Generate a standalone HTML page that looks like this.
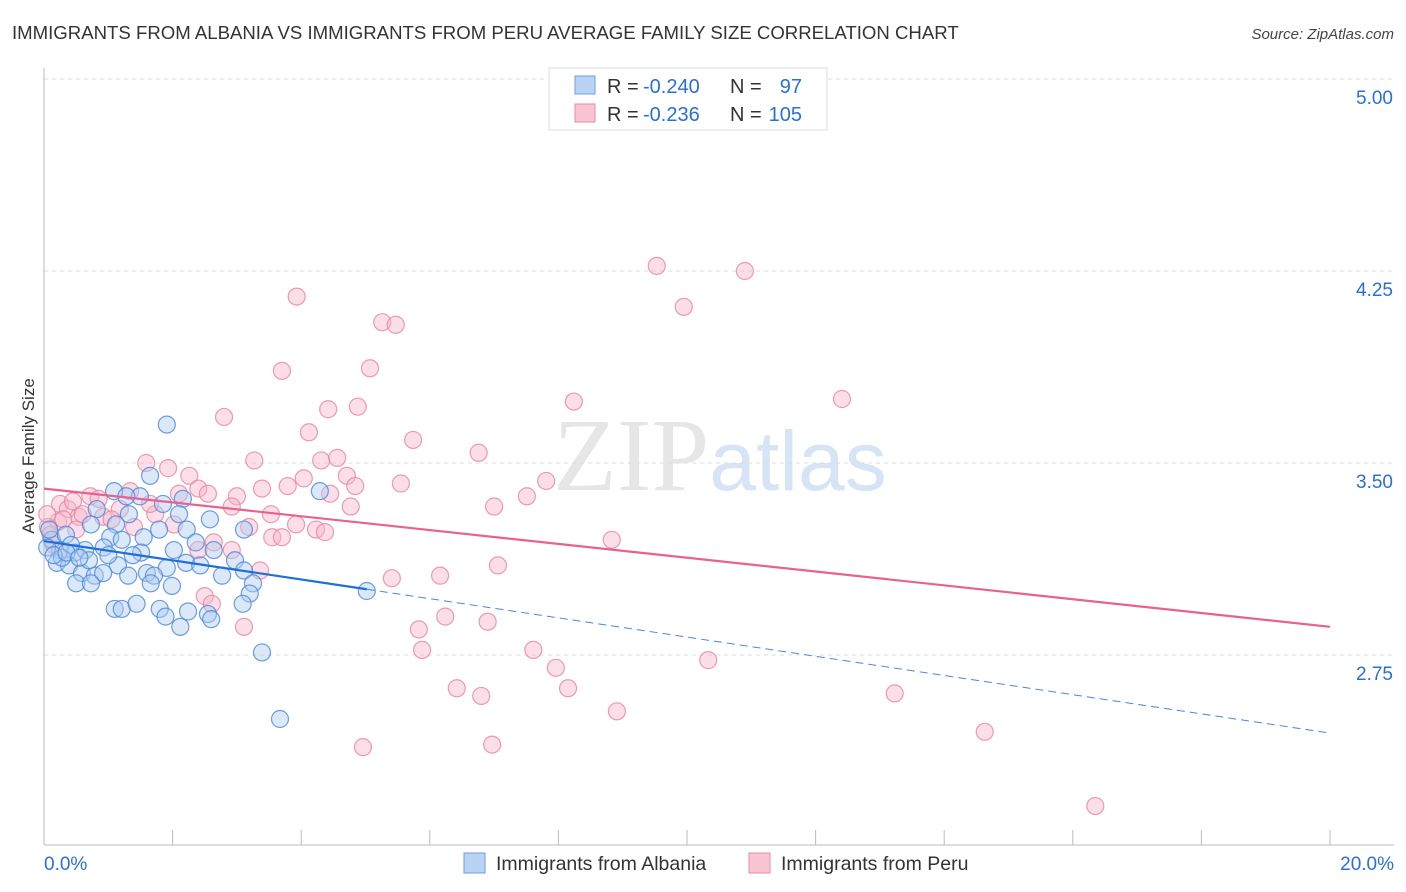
<!DOCTYPE html>
<html><head><meta charset="utf-8"><style>
body{margin:0;background:#fff;font-family:"Liberation Sans",sans-serif;}
svg{display:block}
</style></head><body>
<svg id="chart" width="1406" height="892" xmlns="http://www.w3.org/2000/svg">
<text x="12" y="39" font-size="18.6" fill="#333">IMMIGRANTS FROM ALBANIA VS IMMIGRANTS FROM PERU AVERAGE FAMILY SIZE CORRELATION CHART</text>
<text x="1394" y="39" font-size="15" fill="#444" font-style="italic" text-anchor="end">Source: ZipAtlas.com</text>
<text x="720" y="490" font-size="104" text-anchor="middle" fill="#e6e6e6" font-family="Liberation Serif,serif">ZIP<tspan fill="#d6e4f5" font-family="Liberation Sans,sans-serif" font-size="84">atlas</tspan></text>
<text transform="translate(34,456) rotate(-90)" font-size="17" fill="#333" text-anchor="middle">Average Family Size</text>
<g id="grid"></g><g id="axes"></g><g id="pink"></g><g id="blue"></g><g id="trends"></g>
<g>
<rect x="549" y="68" width="278" height="62" fill="#fff" stroke="#ddd"/>
<rect x="575" y="76" width="20" height="18" fill="#b9d3f5" stroke="#6d9de0"/>
<rect x="575" y="104" width="20" height="18" fill="#f9c5d5" stroke="#e88aa8"/>
<text x="607" y="93" font-size="20" fill="#333">R =</text>
<text x="643" y="93" font-size="20" fill="#2a6fd8">-0.240</text>
<text x="730" y="93" font-size="20" fill="#333">N =</text>
<text x="802" y="93" font-size="20" fill="#2a6fd8" text-anchor="end">97</text>
<text x="607" y="121" font-size="20" fill="#333">R =</text>
<text x="643" y="121" font-size="20" fill="#2a6fd8">-0.236</text>
<text x="730" y="121" font-size="20" fill="#333">N =</text>
<text x="802" y="121" font-size="20" fill="#2a6fd8" text-anchor="end">105</text>
</g>
<g>
<rect x="464" y="853" width="21" height="20" fill="#b9d3f5" stroke="#6d9de0"/>
<text x="496" y="870" font-size="19.5" fill="#333">Immigrants from Albania</text>
<rect x="749" y="853" width="21" height="20" fill="#f9c5d5" stroke="#e88aa8"/>
<text x="781" y="870" font-size="19.5" fill="#333">Immigrants from Peru</text>
</g>
</svg>
<script>
const yTicks=[5.00,4.25,3.50,2.75];
const yTickLabels=["5.00","4.25","3.50","2.75"];
const xTicks=[0,2,4,6,8,10,12,14,16,18,20];
const xEdgeLabels=["0.0%","20.0%"];
const pinkX=[3.93,5.26,5.47,9.53,10.9,9.95,3.70,5.07,4.42,4.88,8.24,12.41,2.80,4.12,5.74,6.76,3.27,4.31,4.56,1.59,1.93,2.26,4.04,4.71,7.81,5.55,3.39,3.79,4.84,4.45,2.40,2.55,7.51,3.00,1.34,0.72,0.25,0.37,7.00,4.77,2.92,3.53,1.73,1.18,0.92,0.54,0.22,0.06,3.19,3.92,4.23,2.02,4.37,3.55,3.70,8.83,2.64,2.40,2.92,7.06,3.36,5.41,6.16,2.50,2.61,3.11,6.24,6.90,5.83,5.88,7.61,7.96,10.33,6.42,6.80,8.15,13.23,8.91,4.96,6.97,14.63,16.35,0.10,0.30,0.45,0.60,0.85,1.05,1.40,0.15,0.50,0.05,1.65,2.10];
const pinkY=[4.15,4.05,4.04,4.27,4.25,4.11,3.86,3.87,3.71,3.72,3.74,3.75,3.68,3.62,3.59,3.54,3.51,3.51,3.52,3.50,3.48,3.45,3.44,3.45,3.43,3.42,3.40,3.41,3.41,3.38,3.40,3.38,3.37,3.37,3.39,3.37,3.34,3.32,3.33,3.33,3.33,3.30,3.30,3.32,3.29,3.29,3.27,3.25,3.25,3.26,3.24,3.26,3.23,3.21,3.21,3.20,3.19,3.16,3.16,3.10,3.08,3.05,3.06,2.98,2.95,2.86,2.90,2.88,2.85,2.77,2.77,2.70,2.73,2.62,2.59,2.62,2.60,2.53,2.39,2.40,2.45,2.16,3.22,3.28,3.35,3.30,3.36,3.28,3.25,3.18,3.24,3.30,3.34,3.38];
const blueX=[1.91,1.65,4.29,2.16,1.09,1.49,1.28,0.82,1.32,1.12,0.73,2.22,1.79,2.58,3.11,0.12,0.34,1.03,1.55,2.36,1.21,0.25,0.48,0.64,0.93,1.51,1.38,2.02,2.64,2.97,0.20,0.39,1.15,1.60,1.91,2.21,2.43,3.11,0.59,0.79,0.92,0.50,1.31,1.71,2.77,0.73,1.66,1.99,3.25,3.20,5.02,1.10,1.21,1.44,1.80,1.89,2.24,2.12,2.55,2.60,3.09,3.39,3.67,0.05,0.08,0.28,0.15,0.42,0.70,1.00,1.85,2.10,0.35,0.55];
const blueY=[3.65,3.45,3.39,3.36,3.39,3.37,3.37,3.32,3.30,3.26,3.26,3.24,3.24,3.28,3.24,3.20,3.22,3.21,3.21,3.19,3.20,3.16,3.15,3.16,3.17,3.15,3.14,3.16,3.16,3.12,3.11,3.10,3.10,3.07,3.09,3.11,3.10,3.08,3.07,3.06,3.07,3.03,3.06,3.06,3.06,3.03,3.03,3.02,3.03,2.99,3.00,2.93,2.93,2.95,2.93,2.90,2.92,2.86,2.91,2.89,2.95,2.76,2.50,3.17,3.24,3.13,3.14,3.18,3.12,3.14,3.34,3.30,3.15,3.13];
const pinkTrend=[3.40,2.86];
const blueTrend=[3.195,2.445];
const blueSolidEnd=5.02;
const NS="http://www.w3.org/2000/svg";
const X0=44,X1=1330,YT=79;
function xs(p){return X0+(p/20)*(X1-X0);}
function ys(v){return YT+(5-v)*256;}
function mk(tag,attrs,parent){const e=document.createElementNS(NS,tag);for(const k in attrs)e.setAttribute(k,attrs[k]);parent.appendChild(e);return e;}
const grid=document.getElementById('grid'),axes=document.getElementById('axes');
yTicks.forEach((v,i)=>{
 const l=mk('line',{x1:X0,x2:1394,y1:ys(v),y2:ys(v),stroke:'#ddd','stroke-dasharray':'4,4'},grid);
 
 
 const t=mk('text',{x:1393,y:ys(v)+25,'font-size':19,fill:'#2a6fd8','text-anchor':'end'},axes);
 t.textContent=yTickLabels[i];
 
 
});
const ax=mk('line',{x1:X0,x2:X0,y1:68,y2:845,stroke:'#bbb'},axes);


const bx=mk('line',{x1:X0,x2:1394,y1:845,y2:845,stroke:'#bbb'},axes);


xTicks.forEach(p=>{
 const t=mk('line',{x1:xs(p),x2:xs(p),y1:830,y2:845,stroke:'#bbb'},axes);
 
 
});
[[0,'start',44],[20,'end',1394]].forEach((a,i)=>{
 const t=mk('text',{x:a[2],y:870,'font-size':19,fill:'#2a6fd8','text-anchor':a[1]},axes);
 t.textContent=xEdgeLabels[i];
 
 
});
function dots(xsA,ysA,g,fill,stroke,name){
 const G=document.getElementById(g);
 xsA.forEach((p,i)=>{
  const c=mk('circle',{cx:xs(p),cy:ys(ysA[i]),r:8.5,fill:fill,'fill-opacity':0.45,stroke:stroke,'stroke-width':1.2,'stroke-opacity':0.8},G);
  
  
 });
}
dots(pinkX,pinkY,'pink','#f7b6ca','#e8849f','peru-point');
dots(blueX,blueY,'blue','#aecbf0','#4a86db','albania-point');
const tr=document.getElementById('trends');
const pl=mk('line',{x1:xs(0),y1:ys(pinkTrend[0]),x2:xs(20),y2:ys(pinkTrend[1]),stroke:'#e8618f','stroke-width':2.2},tr);


const bv=p=>blueTrend[0]+(blueTrend[1]-blueTrend[0])*p/20;
const bl=mk('line',{x1:xs(0),y1:ys(bv(0)),x2:xs(blueSolidEnd),y2:ys(bv(blueSolidEnd)),stroke:'#1f6fd6','stroke-width':2.2},tr);


const bd=mk('line',{x1:xs(blueSolidEnd),y1:ys(bv(blueSolidEnd)),x2:xs(20),y2:ys(bv(20)),stroke:'#4a86db','stroke-width':1,'stroke-dasharray':'8,5'},tr);


</script>
</body></html>
